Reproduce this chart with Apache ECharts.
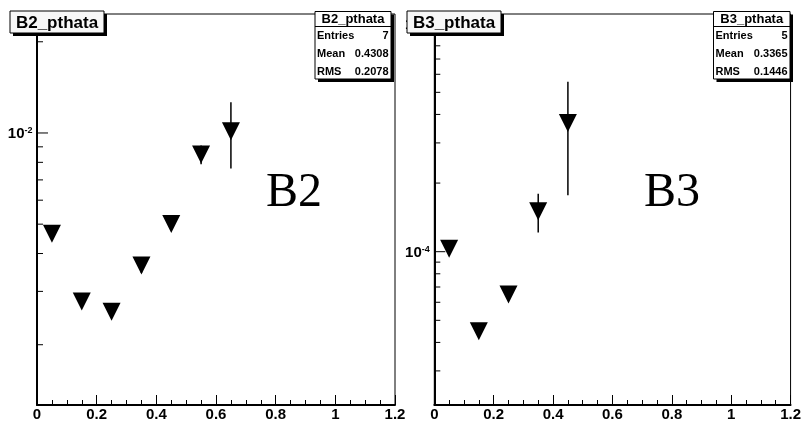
<!DOCTYPE html>
<html>
<head>
<meta charset="utf-8">
<script src="https://cdn.jsdelivr.net/npm/echarts@6/dist/echarts.min.js"></script>
<style>
  html, body { margin: 0; padding: 0; background: #fff; }
  #chart { width: 804px; height: 422px; }
</style>
</head>
<body>
<div id="chart"></div>
<script>
// ---- histogram contents (bin centre, content, error) ----
const b2Centers = [0.05, 0.15, 0.25, 0.35, 0.45, 0.55, 0.65];
const b2Values  = [0.00465, 0.00278, 0.00257, 0.00365, 0.00501, 0.00849, 0.01013];
const b2Errors  = [0.0002, 0.0001, 0.0001, 0.0002, 0.0002, 0.0006, 0.0025];

const b3Centers = [0.05, 0.15, 0.25, 0.35, 0.45];
const b3Values  = [1.03e-4, 4.48e-5, 6.49e-5, 1.505e-4, 3.67e-4];
const b3Errors  = [4e-6, 2e-6, 3e-6, 2.9e-5, 1.9e-4];

// ---- stat box texts ----
const statLabels = ['Entries', 'Mean', 'RMS'];
const b2StatValues = ['7', '0.4308', '0.2078'];
const b3StatValues = ['5', '0.3365', '0.1446'];

// ---- axis ranges and log ticks ----
const xRange = [0, 1.2];
const b2YRange = [1.265e-3, 0.0247];
const b3YRange = [2.126e-5, 1.103e-3];
const b2MajorTicks = [0.01];
const b2MinorTicks = [0.002, 0.003, 0.004, 0.005, 0.006, 0.007, 0.008, 0.009, 0.02];
const b3MajorTicks = [1e-4, 1e-3];
const b3MinorTicks = [3e-5, 4e-5, 5e-5, 6e-5, 7e-5, 8e-5, 9e-5,
                      2e-4, 3e-4, 4e-4, 5e-4, 6e-4, 7e-4, 8e-4, 9e-4];

const SANS = '"Liberation Sans", Arial, Helvetica, sans-serif';
const SERIF = '"Liberation Serif", "Times New Roman", serif';

const grids = [
  { left: 37, top: 14, width: 358, height: 391 },
  { left: 434.3, top: 14, width: 358.4, height: 391 }
];

function xAxis(i) {
  return {
    type: 'value', gridIndex: i, min: xRange[0], max: xRange[1], interval: 0.2,
    axisLine: { show: true, onZero: false, lineStyle: { color: '#000', width: 2 } },
    axisTick: { show: true, inside: true, length: 10, lineStyle: { color: '#000', width: 1 } },
    minorTick: { show: true, splitNumber: 4, length: 5, lineStyle: { color: '#000', width: 1 } },
    splitLine: { show: false }, minorSplitLine: { show: false },
    axisLabel: { color: '#000', fontFamily: SANS, fontWeight: 'bold', fontSize: 15, margin: 2, hideOverlap: false }
  };
}

function yAxis(i, range) {
  return {
    type: 'log', logBase: 10, gridIndex: i, min: range[0], max: range[1],
    axisLine: { show: true, onZero: false, lineStyle: { color: '#000', width: 2 } },
    axisTick: { show: false }, axisLabel: { show: false },
    splitLine: { show: false }, minorTick: { show: false }
  };
}

// y-axis ticks and 10^n labels drawn through the log scale
function tickSeries(i, majors, minors) {
  const data = majors.map(v => [0, v, 1]).concat(minors.map(v => [0, v, 0]));
  return {
    type: 'custom', xAxisIndex: i, yAxisIndex: i, clip: false, silent: true, z: 5,
    encode: { x: 0, y: 1 },
    data: data,
    renderItem: function (params, api) {
      const v = api.value(1);
      const major = api.value(2) === 1;
      const p = api.coord([0, v]);
      const children = [{
        type: 'line',
        shape: { x1: p[0], y1: p[1], x2: p[0] + (major ? 11 : 6), y2: p[1] },
        style: { stroke: '#000', lineWidth: 1 }
      }];
      if (major) {
        const exp = Math.round(Math.log10(v));
        children.push({
          type: 'text', x: p[0] - 4.5, y: p[1] + 1,
          style: {
            text: '{b|10}{s|' + exp + '}',
            align: 'right', verticalAlign: 'middle',
            rich: {
              b: { fontSize: 15, fontWeight: 'bold', fontFamily: SANS, fill: '#000', lineHeight: 16 },
              s: { fontSize: 9, fontWeight: 'bold', fontFamily: SANS, fill: '#000', lineHeight: 4, verticalAlign: 'top' }
            }
          }
        });
      }
      return { type: 'group', children: children };
    }
  };
}

function errorSeries(i, xs, ys, es) {
  return {
    type: 'custom', xAxisIndex: i, yAxisIndex: i, clip: false, silent: true, z: 3,
    encode: { x: 0, y: 1 },
    data: xs.map((x, k) => [x, ys[k], es[k]]),
    renderItem: function (params, api) {
      const x = api.value(0), y = api.value(1), e = api.value(2);
      const top = api.coord([x, y + e]);
      const bot = api.coord([x, y - e]);
      return {
        type: 'line',
        shape: { x1: top[0], y1: top[1], x2: bot[0], y2: bot[1] },
        style: { stroke: '#000', lineWidth: 1.5 }
      };
    }
  };
}

function markerSeries(i, xs, ys) {
  return {
    type: 'scatter', xAxisIndex: i, yAxisIndex: i, z: 4, silent: true,
    symbol: 'path://M0,0L20,0L10,20Z', symbolSize: [18, 18],
    itemStyle: { color: '#000', opacity: 1, borderWidth: 0 },
    emphasis: { disabled: true },
    data: xs.map((x, k) => [x, ys[k]])
  };
}

function shadowBox(x, y, w, h, fill) {
  return [
    { type: 'rect', z: 100, shape: { x: x + 3, y: y + 3, width: w, height: h }, style: { fill: '#000' } },
    { type: 'rect', z: 101, shape: { x: x, y: y, width: w, height: h }, style: { fill: fill, stroke: '#000', lineWidth: 1 } }
  ];
}

function titleBox(x, y, text) {
  const w = 94, h = 22;
  return shadowBox(x, y, w, h, '#f7f7f7').concat([{
    type: 'text', z: 102, x: x + w / 2, y: y + h / 2 + 1,
    style: { text: text, font: 'bold 17px ' + SANS, fill: '#000', align: 'center', verticalAlign: 'middle' }
  }]);
}

function statBox(x, y, w, name, values) {
  const h = 67.5;
  const els = shadowBox(x, y, w, h, '#fff');
  els.push({ type: 'line', z: 102, shape: { x1: x, y1: y + 15, x2: x + w, y2: y + 15 }, style: { stroke: '#000', lineWidth: 1 } });
  els.push({
    type: 'text', z: 102, x: x + w / 2, y: y + 8,
    style: { text: name, font: 'bold 13px ' + SANS, fill: '#000', align: 'center', verticalAlign: 'middle' }
  });
  const rowY = [36.3, 54, 72.2];
  statLabels.forEach((lab, k) => {
    els.push({
      type: 'text', z: 102, x: x + 2, y: rowY[k],
      style: { text: lab, font: 'bold 11px ' + SANS, fill: '#000', align: 'left', verticalAlign: 'middle' }
    });
    els.push({
      type: 'text', z: 102, x: x + w - 2.5, y: rowY[k],
      style: { text: values[k], font: 'bold 11px ' + SANS, fill: '#000', align: 'right', verticalAlign: 'middle' }
    });
  });
  return els;
}

function bigLabel(x, text) {
  return {
    type: 'text', z: 50, x: x, y: 193,
    style: { text: text, font: '48px ' + SERIF, fill: '#000', align: 'center', verticalAlign: 'middle' }
  };
}

const chart = echarts.init(document.getElementById('chart'), null, { renderer: 'canvas' });
chart.setOption({
  animation: false,
  backgroundColor: '#fff',
  grid: grids.map(g => Object.assign({ show: true, borderColor: '#000', borderWidth: 1, backgroundColor: 'transparent' }, g)),
  xAxis: [xAxis(0), xAxis(1)],
  yAxis: [yAxis(0, b2YRange), yAxis(1, b3YRange)],
  series: [
    tickSeries(0, b2MajorTicks, b2MinorTicks),
    tickSeries(1, b3MajorTicks, b3MinorTicks),
    errorSeries(0, b2Centers, b2Values, b2Errors),
    errorSeries(1, b3Centers, b3Values, b3Errors),
    markerSeries(0, b2Centers, b2Values),
    markerSeries(1, b3Centers, b3Values)
  ],
  graphic: [].concat(
    titleBox(10, 11, 'B2_pthata'),
    titleBox(407, 11, 'B3_pthata'),
    statBox(315, 11.5, 76, 'B2_pthata', b2StatValues),
    statBox(713.5, 11.5, 76.5, 'B3_pthata', b3StatValues),
    [bigLabel(294, 'B2'), bigLabel(672, 'B3')]
  )
});
</script>
</body>
</html>
